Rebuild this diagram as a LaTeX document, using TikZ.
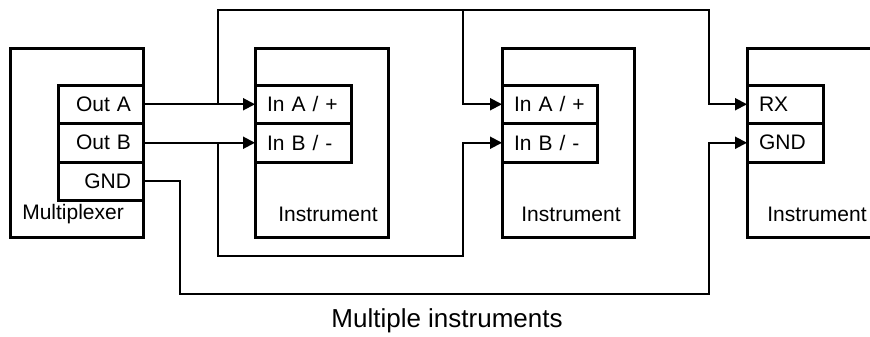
\documentclass[tikz,border=0pt]{standalone}
\usepackage{fontspec}
\setmainfont{Liberation Sans}
\usetikzlibrary{arrows.meta}

\newcommand{\px}{0.75pt}

\begin{document}
\begin{tikzpicture}[x=0.75pt, y=-0.75pt,
	box/.style={draw, line width=2.25pt, inner sep=0pt, outer sep=0pt},
	portR/.style={box, minimum height=38.5*\px, inner xsep=12*\px, text width=61*\px, align=right},
	portL/.style={box, minimum height=38.5*\px, inner xsep=12*\px, align=left},
	lbl/.style={inner sep=0pt},
	wire/.style={line width=1.5pt},
	sig/.style={wire, -{Triangle[length=9pt, width=9pt]}},
	font=\fontsize{15.75}{18}\selectfont]
			\clip (0,0) rectangle (870,336);

			\node (mux)[box, minimum width=133*\px, minimum height=189*\px] at (76.5,142.5) {};
			\node (muxa)[portR, anchor=north east] at (143,85) {Out A};
			\node (muxb)[portR, anchor=north] at (muxa.south) {Out B};
			\node (muxg)[portR, anchor=north] at (muxb.south) {GND};
			\node (muxlbl)[lbl, anchor=west] at (22,214) {Multiplexer};

			\node (ins1)[box, minimum width=133*\px, minimum height=189*\px] at (321.5,142.5) {};
			\node (ina1)[portL, text width=72*\px, anchor=north west] at (255,85) {In A / +};
			\node (inb1)[portL, text width=72*\px, anchor=north] at (ina1.south) {In B / -};
			\node (lbl1)[lbl] at (328,214) {Instrument};

			\node (ins2)[box, minimum width=132*\px, minimum height=189*\px] at (568,142.5) {};
			\node (ina2)[portL, text width=71*\px, anchor=north west] at (502,85) {In A / +};
			\node (inb2)[portL, text width=71*\px, anchor=north] at (ina2.south) {In B / -};
			\node (lbl2)[lbl] at (571,214) {Instrument};

			\node (ins3)[box, minimum width=150*\px, minimum height=189*\px] at (822,142.5) {};
			\node (rx3)[portL, text width=52*\px, anchor=north west] at (747,85) {RX};
			\node (gnd3)[portL, text width=52*\px, anchor=north] at (rx3.south) {GND};
			\node (lbl3)[lbl] at (817,214) {Instrument};

			\node (title)[lbl, font=\fontsize{19.5}{23}\selectfont] at (447,321) {Multiple instruments};

			% branch points
			\coordinate (ja) at (218,0 |- muxa.east);
			\coordinate (jb) at (218,0 |- muxb.east);

			\draw [sig](muxa.east) -- (ina1.west);
			\draw [sig](muxb.east) -- (inb1.west);

			\draw [sig](ja) -- (218,10) -- (709,10) |- (rx3.west);
			\draw [sig](463,10) |- (ina2.west);
			\draw [sig](jb) |- (463,256) |- (inb2.west);
			\draw [sig](muxg.east) -| (180,294) -- (709,294) |- (gnd3.west);
		\end{tikzpicture}
\end{document}
